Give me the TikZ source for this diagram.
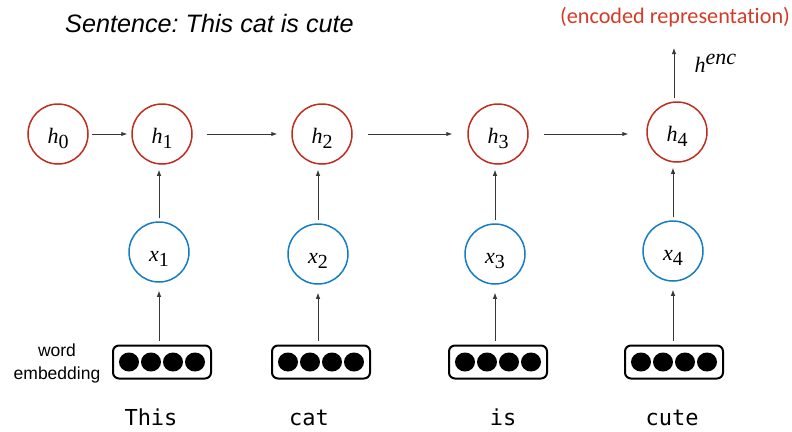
\documentclass[tikz,border=0pt]{standalone}
\usepackage{fontspec}
\setmainfont{Liberation Serif}
\newfontfamily\labelsans{Liberation Sans}
\newfontfamily\notesans[Ligatures=NoCommon]{Carlito}
\newfontfamily\wordmono{DejaVu Sans Mono}
\usetikzlibrary{arrows.meta}
\frenchspacing

\definecolor{hidred}{RGB}{190,45,30}
\definecolor{inblue}{RGB}{20,125,195}
\definecolor{notered}{RGB}{210,60,40}
\definecolor{arrowgray}{RGB}{55,55,55}

% italic variable with a near full-size upright index
\newcommand\varsub[2]{{\itshape #1}\raisebox{-5pt}{\fontsize{20}{20}\selectfont #2}}

\begin{document}
\begin{tikzpicture}[x=1pt,y=-1pt,
  state/.style={circle, draw=hidred, line width=1.5pt, minimum size=60pt,
    inner sep=0pt, font=\fontsize{22}{22}\selectfont, text height=20pt, text depth=2pt},
  input/.style={state, draw=inblue},
  embbox/.style={rectangle, rounded corners=6pt, draw=black, line width=2pt,
    minimum width=98pt, minimum height=33pt, inner sep=0pt},
  flow/.style={draw=arrowgray, line width=0.9pt, -{Latex[length=6pt,width=4.5pt]}},
  word/.style={font=\wordmono\fontsize{22}{22}\selectfont, anchor=base,
    text depth=0pt, inner sep=1pt}
]
\useasboundingbox (0,0) rectangle (792,431);

% title and annotation
\node[anchor=base west, font=\labelsans\itshape\fontsize{25.2}{25.2}\selectfont, inner sep=0pt]
  (title) at (65,32) {Sentence: This cat is cute};
\node[font=\notesans\fontsize{22.2}{22.2}\selectfont, text=notered]
  (note) at (675,17) {(encoded representation)};

% hidden states
\node[state] (h0) at (58,134) {\varsub{h}{0}};
\node[state] (h1) at (162,134) {\varsub{h}{1}};
\node[state] (h2) at (322,134) {\varsub{h}{2}};
\node[state] (h3) at (498,134) {\varsub{h}{3}};
\node[state] (h4) at (677,132) {\varsub{h}{4}};

% inputs
\node[input] (x1) at (159,252) {\varsub{x}{1}};
\node[input] (x2) at (318,254) {\varsub{x}{2}};
\node[input] (x3) at (495,254) {\varsub{x}{3}};
\node[input] (x4) at (673,251) {\varsub{x}{4}};

% word embeddings
\foreach \n/\cx in {1/162,2/321,3/498,4/674}{
  \node[embbox] (e\n) at (\cx,362) {};
  \foreach \dx in {-33,-11,11,33}
    \fill ([xshift=\dx pt]e\n.center) ellipse (10pt and 9.5pt);
}

\node[font=\labelsans\fontsize{17.5}{23}\selectfont, align=center]
  (wlabel) at (57,363) {word\\embedding};

% words
\node[word] (w1) at (151,425) {This};
\node[word] (w2) at (309,425) {cat};
\node[word] (w3) at (503,425) {is};
\node[word] (w4) at (672,425) {cute};

% recurrence
\draw[flow, shorten <=3pt, shorten >=4pt] (h0.east) -- (h0.east -| h1.west);
\draw[flow, shorten <=14pt, shorten >=14pt] (h1.east) -- (h1.east -| h2.west);
\draw[flow, shorten <=15pt, shorten >=15pt] (h2.east) -- (h2.east -| h3.west);
\draw[flow, shorten <=15pt, shorten >=18pt] (h3.east) -- (h3.east -| h4.west);

% inputs into states
\foreach \i in {1,2,3,4}{
  \draw[flow, shorten <=3pt, shorten >=5pt] (x\i.north) -- (x\i.north |- h\i.south);
  \draw[flow, shorten <=4pt, shorten >=8pt] (x\i.south |- e\i.north) -- (x\i.south);
}

% encoder output
\coordinate (out) at (674,48);
\draw[flow, shorten <=3pt] (h4.north -| out) -- (out);
\node[anchor=base west, font=\fontsize{22}{22}\selectfont] (henc) at (691,72)
  {{\itshape h}\raisebox{7.5pt}{\itshape enc}};
\end{tikzpicture}
\end{document}
